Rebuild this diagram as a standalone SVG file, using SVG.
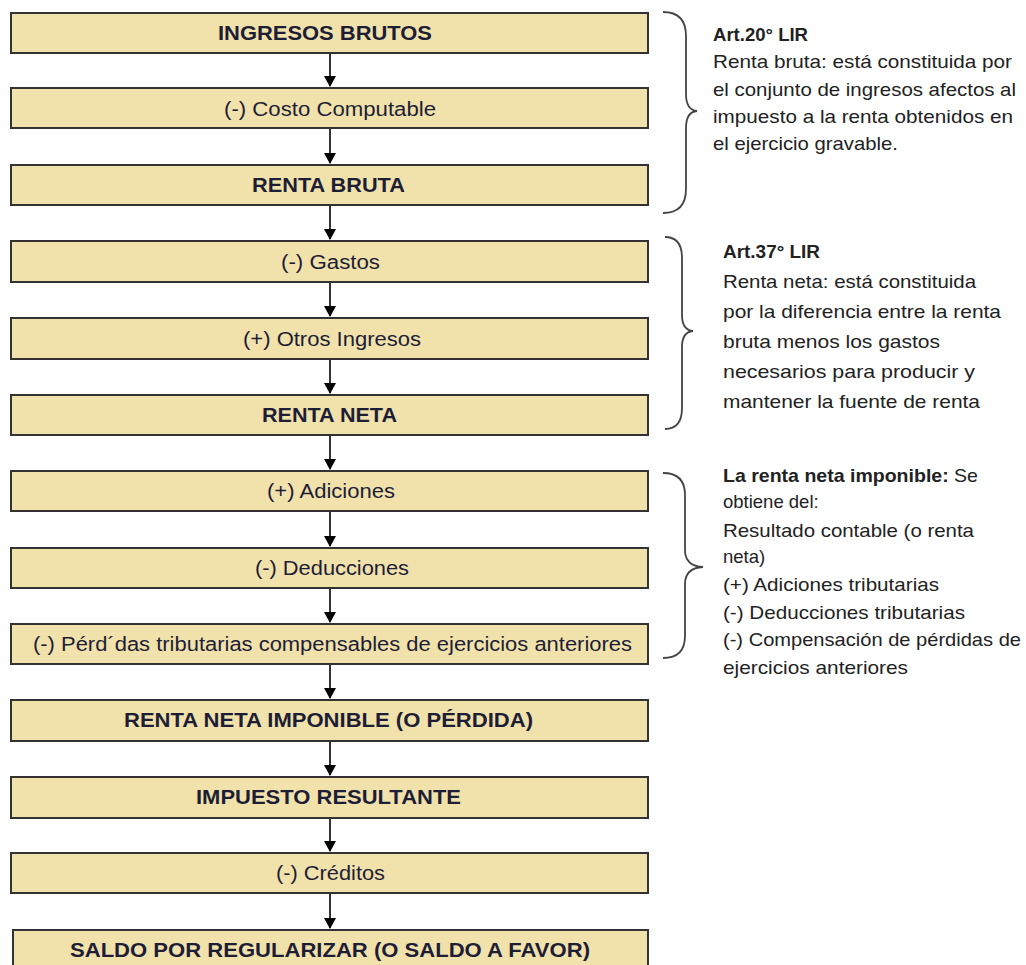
<svg xmlns="http://www.w3.org/2000/svg" width="1026" height="965" viewBox="0 0 1026 965">
<style>
.box{fill:#f1e2ab;stroke:#333;stroke-width:2}
.lb{font-family:"Liberation Sans",Arial,sans-serif;font-size:20px;fill:#1d1d36;text-anchor:start}
.b{font-weight:bold}
.cn{stroke:#000;stroke-width:1.6;fill:none}
.br{stroke:#444;stroke-width:1.8;fill:none}
.nt{font-family:"Liberation Sans",Arial,sans-serif;font-size:18.5px;fill:#222}
</style>
<defs>
<path id="ah" d="M-6,0 L6,0 L0,11 Z" fill="#000"/>
</defs>
<rect width="1026" height="965" fill="#fff"/>

<g id="connectors">
<path class="cn" d="M330,53 V86"/>
<path class="cn" d="M330,128 V163"/>
<path class="cn" d="M330,205 V239"/>
<path class="cn" d="M330,282 V316"/>
<path class="cn" d="M330,359 V393"/>
<path class="cn" d="M330,435 V469"/>
<path class="cn" d="M330,511 V546"/>
<path class="cn" d="M330,588 V622"/>
<path class="cn" d="M330,664 V698"/>
<path class="cn" d="M330,741 V775"/>
<path class="cn" d="M330,818 V851"/>
<path class="cn" d="M330,893 V928"/>
<use href="#ah" x="330" y="76"/>
<use href="#ah" x="330" y="153"/>
<use href="#ah" x="330" y="229"/>
<use href="#ah" x="330" y="306"/>
<use href="#ah" x="330" y="383"/>
<use href="#ah" x="330" y="459"/>
<use href="#ah" x="330" y="536"/>
<use href="#ah" x="330" y="612"/>
<use href="#ah" x="330" y="688"/>
<use href="#ah" x="330" y="765"/>
<use href="#ah" x="330" y="841"/>
<use href="#ah" x="330" y="918"/>
</g>

<g id="n1"><rect class="box" x="11" y="13" width="637" height="40"/><text class="lb b" x="218" y="40" textLength="214" lengthAdjust="spacingAndGlyphs">INGRESOS BRUTOS</text></g>
<g id="n2"><rect class="box" x="11" y="88" width="637" height="40"/><text class="lb" x="224" y="116" textLength="212" lengthAdjust="spacingAndGlyphs">(-) Costo Computable</text></g>
<g id="n3"><rect class="box" x="11" y="165" width="637" height="40"/><text class="lb b" x="252" y="192" textLength="153" lengthAdjust="spacingAndGlyphs">RENTA BRUTA</text></g>
<g id="n4"><rect class="box" x="11" y="241" width="637" height="41"/><text class="lb" x="281" y="269" textLength="99" lengthAdjust="spacingAndGlyphs">(-) Gastos</text></g>
<g id="n5"><rect class="box" x="11" y="318" width="637" height="41"/><text class="lb" x="243" y="346" textLength="178" lengthAdjust="spacingAndGlyphs">(+) Otros Ingresos</text></g>
<g id="n6"><rect class="box" x="11" y="395" width="637" height="40"/><text class="lb b" x="262" y="422" textLength="135" lengthAdjust="spacingAndGlyphs">RENTA NETA</text></g>
<g id="n7"><rect class="box" x="11" y="471" width="637" height="40"/><text class="lb" x="267" y="498" textLength="128" lengthAdjust="spacingAndGlyphs">(+) Adiciones</text></g>
<g id="n8"><rect class="box" x="11" y="548" width="637" height="40"/><text class="lb" x="255" y="575" textLength="154" lengthAdjust="spacingAndGlyphs">(-) Deducciones</text></g>
<g id="n9"><rect class="box" x="11" y="624" width="637" height="40"/><text class="lb" x="33" y="651" textLength="599" lengthAdjust="spacingAndGlyphs">(-) Pérd´das tributarias compensables de ejercicios anteriores</text></g>
<g id="n10"><rect class="box" x="11" y="700" width="637" height="41"/><text class="lb b" x="124" y="727" textLength="409" lengthAdjust="spacingAndGlyphs">RENTA NETA IMPONIBLE (O PÉRDIDA)</text></g>
<g id="n11"><rect class="box" x="11" y="777" width="637" height="41"/><text class="lb b" x="196" y="804" textLength="265" lengthAdjust="spacingAndGlyphs">IMPUESTO RESULTANTE</text></g>
<g id="n12"><rect class="box" x="11" y="853" width="637" height="40"/><text class="lb" x="276" y="880" textLength="109" lengthAdjust="spacingAndGlyphs">(-) Créditos</text></g>
<g id="n13"><rect class="box" x="13" y="930" width="635" height="45"/><text class="lb b" x="70" y="957" textLength="520" lengthAdjust="spacingAndGlyphs">SALDO POR REGULARIZAR (O SALDO A FAVOR)</text></g>

<g id="brace1">
<path class="br" d="M663,12 Q686,12 686,36 L686,94 Q686,110 697,111 Q686,112 686,128 L686,189 Q686,213 663,213"/>
</g>
<g id="note1">
<text class="nt b" x="713" y="41" textLength="95" lengthAdjust="spacingAndGlyphs">Art.20° LIR</text>
<text class="nt" x="713" y="68" textLength="299" lengthAdjust="spacingAndGlyphs">Renta bruta: está constituida por</text>
<text class="nt" x="713" y="96" textLength="303" lengthAdjust="spacingAndGlyphs">el conjunto de ingresos afectos al</text>
<text class="nt" x="713" y="123" textLength="300" lengthAdjust="spacingAndGlyphs">impuesto a la renta obtenidos en</text>
<text class="nt" x="713" y="150" textLength="185" lengthAdjust="spacingAndGlyphs">el ejercicio gravable.</text>
</g>

<g id="brace2">
<path class="br" d="M665,237 Q682,237 682,258 L682,315 Q682,330 693,331 Q682,332 682,347 L682,408 Q682,429 665,429"/>
</g>
<g id="note2">
<text class="nt b" x="723" y="258" textLength="97" lengthAdjust="spacingAndGlyphs">Art.37° LIR</text>
<text class="nt" x="723" y="288" textLength="253" lengthAdjust="spacingAndGlyphs">Renta neta: está constituida</text>
<text class="nt" x="723" y="318" textLength="278" lengthAdjust="spacingAndGlyphs">por la diferencia entre la renta</text>
<text class="nt" x="723" y="348" textLength="217" lengthAdjust="spacingAndGlyphs">bruta menos los gastos</text>
<text class="nt" x="723" y="378" textLength="252" lengthAdjust="spacingAndGlyphs">necesarios para producir y</text>
<text class="nt" x="723" y="408" textLength="257" lengthAdjust="spacingAndGlyphs">mantener la fuente de renta</text>
</g>

<g id="brace3">
<path class="br" d="M663,473 Q685,473 685,495 L685,550 Q685,566 703,567 Q685,568 685,584 L685,636 Q685,658 663,658"/>
</g>
<g id="note3">
<text class="nt" x="723" y="482" textLength="255" lengthAdjust="spacingAndGlyphs"><tspan font-weight="bold">La renta neta imponible:</tspan> Se</text>
<text class="nt" x="723" y="508">obtiene del:</text>
<text class="nt" x="723" y="537" textLength="251" lengthAdjust="spacingAndGlyphs">Resultado contable (o renta</text>
<text class="nt" x="723" y="563">neta)</text>
<text class="nt" x="723" y="591" textLength="216" lengthAdjust="spacingAndGlyphs">(+) Adiciones tributarias</text>
<text class="nt" x="723" y="619" textLength="242" lengthAdjust="spacingAndGlyphs">(-) Deducciones tributarias</text>
<text class="nt" x="723" y="646" textLength="298" lengthAdjust="spacingAndGlyphs">(-) Compensación de pérdidas de</text>
<text class="nt" x="723" y="674" textLength="185" lengthAdjust="spacingAndGlyphs">ejercicios anteriores</text>
</g>
</svg>
